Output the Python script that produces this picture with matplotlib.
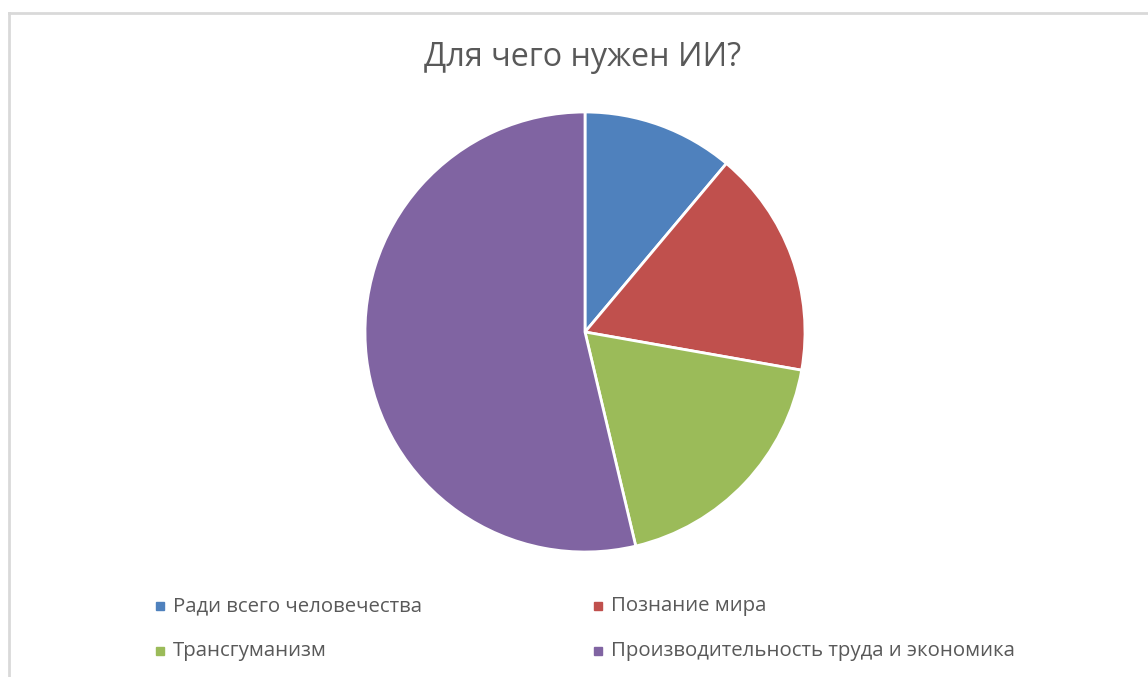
import matplotlib.pyplot as plt
from matplotlib.patches import Rectangle

# data
labels = ["Ради всего человечества", "Познание мира", "Трансгуманизм",
          "Производительность труда и экономика"]
values = [6, 9, 10, 29]
colors = ["#4F81BD", "#C0504D", "#9BBB59", "#8064A2"]
title = "Для чего нужен ИИ?"

W, H = 1148, 677
fig = plt.figure(figsize=(W / 100, H / 100), dpi=100)
plt.rcParams['font.family'] = ['Open Sans', 'DejaVu Sans']

# chart border (only top and left visible)
fig.add_artist(plt.Line2D([9 / W, 9 / W], [0, 1 - 13 / H], transform=fig.transFigure,
                          color="#d9d9d9", lw=2))
fig.add_artist(plt.Line2D([9 / W, 1], [1 - 13 / H, 1 - 13 / H], transform=fig.transFigure,
                          color="#d9d9d9", lw=2))

# pie
cx, cy, r = 585, 332, 220
ax = fig.add_axes([(cx - r) / W, (H - cy - r) / H, 2 * r / W, 2 * r / H])
ax.pie(values, colors=colors, startangle=90, counterclock=False,
       wedgeprops=dict(edgecolor="white", linewidth=2))
ax.set_xlim(-1, 1)
ax.set_ylim(-1, 1)
ax.set_aspect("equal")
ax.axis("off")

fig.text(583 / W, 1 - 58 / H, title, ha="center", va="center",
         fontsize=23.3, color="#595959")

# legend, 2 columns
pos = [(160, 606), (598, 606), (160, 651), (598, 651)]
for (x, y), lab, c in zip(pos, labels, colors):
    s = 8
    fig.add_artist(Rectangle(((x - s / 2) / W, 1 - (y + s / 2) / H), s / W, s / H,
                             transform=fig.transFigure, color=c))
    fig.text((x + 13) / W, 1 - y / H, lab, ha="left", va="center",
             fontsize=14.7, color="#595959")

fig.savefig("out.png", dpi=100)
